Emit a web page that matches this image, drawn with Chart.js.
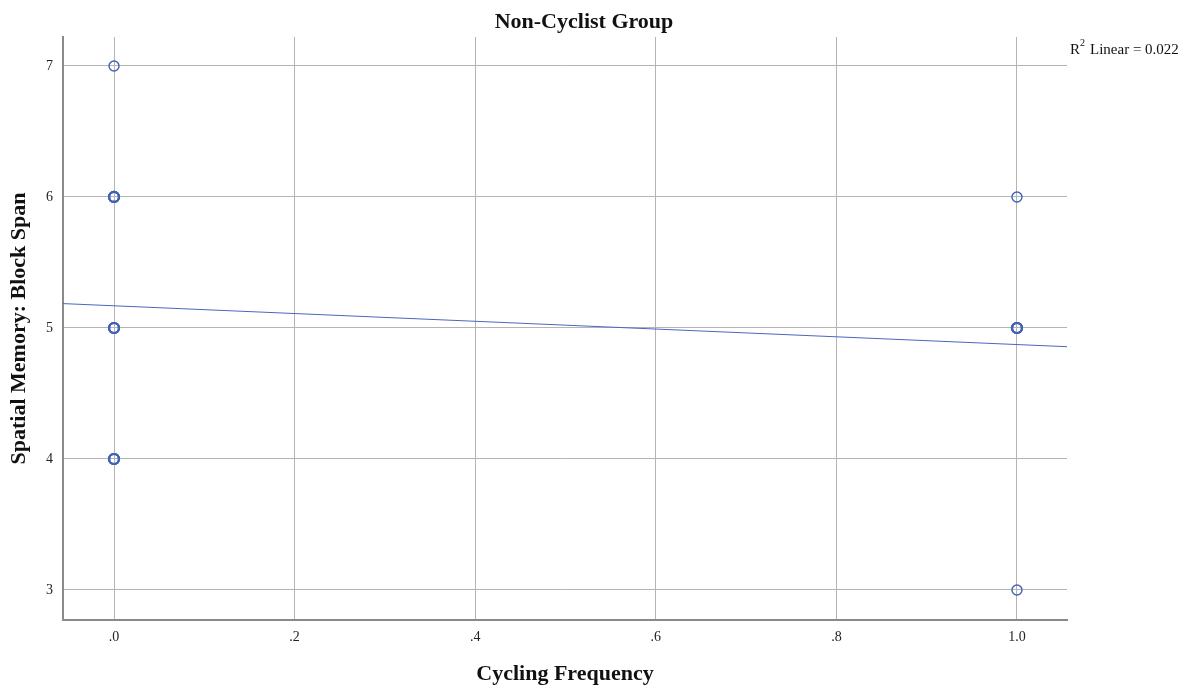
<!DOCTYPE html>
<html>
<head>
<meta charset="utf-8">
<script src="https://cdn.jsdelivr.net/npm/chart.js@4"></script>
<style>
  html, body { margin: 0; padding: 0; background: #fff; }
  #wrap { width: 1196px; height: 691px; }
</style>
</head>
<body>
<div id="wrap"><canvas id="scatterChart"></canvas></div>
<script>
// values
const xValues = [0, 0, 0, 0, 0, 0, 0, 0, 0, 0, 1, 1, 1, 1, 1];
const yValues = [7, 6, 6, 6, 5, 5, 5, 4, 4, 4, 6, 5, 5, 5, 3];
const fitX = [-0.0565, 1.0554];
const fitY = [5.186, 4.857];
const xTicks = [0, 0.2, 0.4, 0.6, 0.8, 1.0];
const yTicks = [3, 4, 5, 6, 7];
const rSquared = '0.022';

const serif = "'Liberation Serif', 'Times New Roman', serif";

// how many cases sit on the same spot (overlaps look heavier in SPSS)
function sameSpot(i) {
  let n = 0;
  xValues.forEach((x, j) => { if (x === xValues[i] && yValues[j] === yValues[i]) n++; });
  return n;
}

// title + R2 label, drawn at the spots SPSS puts them
const textPlugin = {
  id: 'texts',
  afterDraw(chart) {
    const c = chart.ctx;
    c.save();
    c.fillStyle = '#111';
    c.font = 'bold 22px ' + serif;
    c.textAlign = 'center';
    c.textBaseline = 'middle';
    c.fillText('Non-Cyclist Group', 584, 22);

    c.textAlign = 'left';
    c.textBaseline = 'alphabetic';
    c.font = '15px ' + serif;
    c.fillText('R', 1070, 54);
    c.font = '10px ' + serif;
    c.fillText('2', 1080, 46);
    c.font = '15px ' + serif;
    c.fillText('Linear = ' + rSquared, 1090, 54);
    c.restore();
  }
};

const ctx = document.getElementById('scatterChart');
new Chart(ctx, {
  data: {
    datasets: [{
      type: 'scatter',
      data: xValues.map((x, i) => ({ x: x, y: yValues[i] })),
      pointRadius: 5,
      pointHoverRadius: 5,
      pointBorderWidth: c => sameSpot(c.dataIndex) > 1 ? 2.2 : 1.4,
      borderColor: '#4261b8',
      backgroundColor: 'rgba(0,0,0,0)',
      order: 1
    }, {
      type: 'line',
      data: fitX.map((x, i) => ({ x: x, y: fitY[i] })),
      borderColor: '#4a67bd',
      borderWidth: 1,
      pointRadius: 0,
      fill: false,
      order: 2
    }]
  },
  options: {
    responsive: true,
    maintainAspectRatio: false,
    animation: false,
    layout: { padding: { top: 37, right: 129, left: 0, bottom: 0 } },
    plugins: {
      legend: { display: false },
      tooltip: { enabled: false }
    },
    scales: {
      x: {
        type: 'linear',
        min: -0.0565,
        max: 1.0554,
        afterBuildTicks: s => { s.ticks = xTicks.map(v => ({ value: v })); },
        afterFit: s => { s.height = 71; },
        ticks: {
          padding: 9,
          color: '#222',
          font: { family: serif, size: 14 },
          callback: v => v === 1 ? '1.0' : v.toFixed(1).replace(/^0/, '')
        },
        grid: { color: '#b4b4b4', lineWidth: 1, drawTicks: false },
        border: { color: '#8a8a8a', width: 2 },
        title: {
          display: true,
          text: 'Cycling Frequency',
          color: '#111',
          font: { family: serif, size: 22, weight: 'bold' },
          padding: { top: 4, bottom: 3 }
        }
      },
      y: {
        type: 'linear',
        min: 2.771,
        max: 7.221,
        afterBuildTicks: s => { s.ticks = yTicks.map(v => ({ value: v })); },
        afterFit: s => { s.width = 63; },
        ticks: {
          padding: 10,
          color: '#222',
          font: { family: serif, size: 14 }
        },
        grid: { color: '#b4b4b4', lineWidth: 1, drawTicks: false },
        border: { color: '#8a8a8a', width: 2 },
        title: {
          display: true,
          text: 'Spatial Memory: Block Span',
          color: '#111',
          font: { family: serif, size: 22, weight: 'bold' },
          padding: { top: 6, bottom: 4 }
        }
      }
    }
  },
  plugins: [textPlugin]
});
</script>
</body>
</html>
